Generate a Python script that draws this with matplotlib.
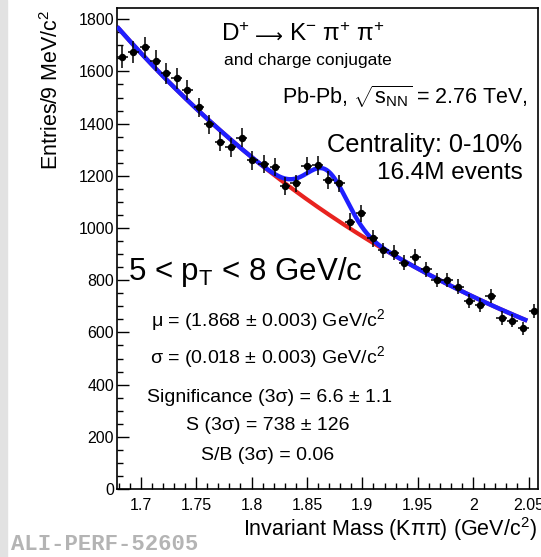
"""D+ -> K- pi+ pi+ invariant mass spectrum, Pb-Pb 0-10%, 5 < pT < 8 GeV/c."""

import matplotlib

matplotlib.use("Agg")
import matplotlib.pyplot as plt  # noqa: E402
import numpy as np  # noqa: E402

plt.rcParams["font.family"] = ["Liberation Sans", "DejaVu Sans"]
plt.rcParams["mathtext.fontset"] = "custom"
plt.rcParams["mathtext.rm"] = "Liberation Sans"
plt.rcParams["mathtext.it"] = "Liberation Sans:italic"
plt.rcParams["mathtext.bf"] = "Liberation Sans:bold"

# invariant mass bin centres (GeV/c^2) and entries per bin
mass = [1.6834, 1.6933, 1.7039, 1.7135, 1.7228, 1.7325, 1.7421, 1.7526, 1.7616,
        1.7716, 1.7812, 1.7912, 1.8007, 1.8108, 1.8212, 1.8302, 1.8399, 1.8498,
        1.8597, 1.8693, 1.8792, 1.8889, 1.8988, 1.9094, 1.9189, 1.9286, 1.9376,
        1.9476, 1.9575, 1.9671, 1.9767, 1.9866, 1.9966, 2.0062, 2.0159, 2.0258,
        2.0354, 2.0453, 2.0550]
entries = [1656, 1675, 1692, 1641, 1593, 1573, 1529, 1462, 1397, 1331, 1309, 1346,
           1260, 1245, 1235, 1161, 1171, 1237, 1240, 1184, 1171, 1024, 1056, 960,
           914, 906, 867, 888, 842, 801, 801, 775, 720, 705, 739, 656, 645, 616, 683]
errors = [41, 41, 41, 41, 40, 40, 39, 38, 37, 37, 36, 37, 36, 35, 35, 34, 34, 35,
          35, 34, 34, 32, 33, 31, 30, 30, 29, 30, 29, 28, 28, 28, 27, 27, 27, 26,
          25, 25, 26]
half_bin = 0.0049

# fit: exponential background + gaussian signal
BKG_NORM, BKG_SLOPE, X0 = 1765.0, 2.73, 1.68
SIG_AMP, MU, SIGMA = 165.0, 1.868, 0.018
FIT_RANGE = (1.68, 2.047)


def background(x):
    return BKG_NORM * np.exp(-BKG_SLOPE * (x - X0))


def total(x):
    return background(x) + SIG_AMP * np.exp(-0.5 * ((x - MU) / SIGMA) ** 2)


W, H = 541, 557
fig = plt.figure(figsize=(W / 100, H / 100), dpi=100)
fig.patch.set_facecolor("white")
# grey strip on the left edge
fig.patches.append(plt.Rectangle((0, 0), 7 / W, 1, transform=fig.transFigure,
                                 color="#e2e2e2", zorder=0))

ax = fig.add_axes([117 / W, 1 - 489 / H, 421 / W, 481 / H])
xs = np.linspace(*FIT_RANGE, 400)
ax.plot(xs, background(xs), color="#e8231f", lw=3.0, zorder=2)
ax.plot(xs, total(xs), color="#1f1fff", lw=3.2, zorder=3)
ax.errorbar(mass, entries, yerr=errors, xerr=half_bin, fmt="o", color="black",
            ms=4.3, elinewidth=1.1, capsize=0, zorder=4)

ax.set_xlim(1.6786, 2.0585)
ax.set_ylim(0, 1843)
ax.set_xticks([1.7, 1.75, 1.8, 1.85, 1.9, 1.95, 2.0, 2.05])
ax.set_xticklabels(["1.7", "1.75", "1.8", "1.85", "1.9", "1.95", "2", "2.05"])
ax.set_xticks(np.arange(1.68, 2.0585, 0.01), minor=True)
ax.set_yticks(range(0, 1801, 200))
ax.set_yticks(range(0, 1801, 50), minor=True)
ax.tick_params(which="both", direction="in", top=False, right=False, width=1.0,
               labelsize=11.5)
ax.tick_params(which="major", length=8.6)
ax.tick_params(which="minor", length=4.3)
ax.tick_params(axis="x", pad=6.5)
ax.tick_params(axis="y", pad=2)
for s in ax.spines.values():
    s.set_linewidth(1.2)


def ftext(x, y, s, **kw):
    fig.text(x / W, 1 - y / H, s, **kw)


ftext(52, 10, r"Entries/9 MeV/c$^{2}$", rotation=90, ha="center", va="top", fontsize=15.5)
ftext(537, 529, r"Invariant Mass (Kππ) (GeV/c$^{2}$)", ha="right", va="center",
      fontsize=15.5)

# decay channel title: pieces so the long arrow can come from DejaVu Sans
ftext(221, 35, r"D$^{+}$", ha="left", va="center", fontsize=17.5)
ftext(269, 37, "⟶", ha="center", va="center", fontsize=14,
      family="DejaVu Sans")
ftext(289, 35, r"K$^{-}$ π$^{+}$ π$^{+}$", ha="left", va="center", fontsize=17.5)
ftext(308, 60, "and charge conjugate", ha="center", va="center", fontsize=12.5)
ftext(528, 97, r"Pb-Pb, $\sqrt{\mathrm{s}_{\mathrm{NN}}}$ = 2.76 TeV,", ha="right",
      va="center", fontsize=15.5)
ftext(522, 145, "Centrality: 0-10%", ha="right", va="center", fontsize=18.3)
ftext(523, 173, "16.4M events", ha="right", va="center", fontsize=17.5)

ftext(128, 272, r"5 < p$_{\mathrm{T}}$ < 8 GeV/c", ha="left", va="center", fontsize=22.5)
ftext(268, 320, r"μ = (1.868 ± 0.003) GeV/c$^{2}$", ha="center", va="center",
      fontsize=14)
ftext(268, 357, r"σ = (0.018 ± 0.003) GeV/c$^{2}$", ha="center", va="center",
      fontsize=14)
ftext(270, 397, "Significance (3σ) = 6.6 ± 1.1", ha="center", va="center",
      fontsize=14)
ftext(268, 426, "S (3σ) = 738 ± 126", ha="center", va="center", fontsize=14)
ftext(268, 455, "S/B (3σ) = 0.06", ha="center", va="center", fontsize=14)

ftext(11, 545, "ALI-PERF-52605", ha="left", va="center", fontsize=16,
      family="Liberation Mono", weight="bold", color="#b4b4b4")

fig.savefig("out.png", dpi=100, facecolor="white")
